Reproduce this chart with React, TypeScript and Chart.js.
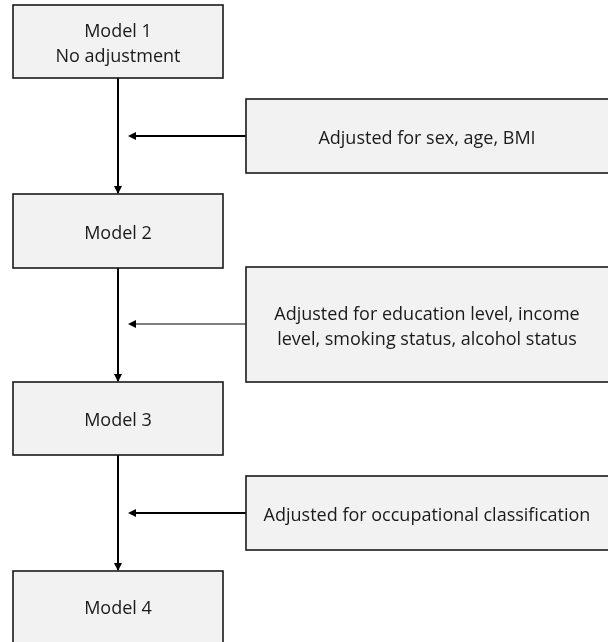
import React, { useEffect, useRef } from "react";
import { Chart, registerables } from "chart.js";

Chart.register(...registerables);

// Left column: model boxes (chart units, y grows downward)
const modelLabels: string[][] = [["Model 1", "No adjustment"], ["Model 2"], ["Model 3"], ["Model 4"]];
const modelTop = [5, 194, 382, 571];
const modelBottom = [78, 268, 455, 646];

// Right column: adjustment boxes
const adjustLabels: string[][] = [
  ["Adjusted for sex, age, BMI"],
  ["Adjusted for education level, income", "level, smoking status, alcohol status"],
  ["Adjusted for occupational classification"],
];
const adjustTop = [99, 267, 476];
const adjustBottom = [173, 382, 550];
const arrowY = [136, 324, 513];

// Column extents
const modelLeft = 13;
const modelRight = 223;
const trunkX = 118;
const adjustLeft = 246;
const adjustRight = 612;
const arrowTipX = 128;

const FONT = "18px 'Open Sans', Lato, sans-serif";
const TEXT = "#1a1a1a";
const FILL = "#f2f2f2";

export default function App() {
  const ref = useRef<HTMLCanvasElement | null>(null);
  useEffect(() => {
    document.body.style.margin = "0";
    const canvas = ref.current!;
    const trunkSets = modelBottom.slice(0, -1).map((b, i) => ({
      type: "line" as const,
      data: [
        { x: trunkX, y: b },
        { x: trunkX, y: modelTop[i + 1] - 1 },
      ],
      borderColor: "#000",
      borderWidth: 2,
      pointRadius: 0,
      showLine: true,
    }));
    const arrowSets = arrowY.map((y, i) => ({
      type: "line" as const,
      data: [
        { x: adjustLeft, y },
        { x: arrowTipX + 4, y },
      ],
      borderColor: "#000",
      borderWidth: i === 1 ? 1.2 : 2,
      pointRadius: 0,
      showLine: true,
    }));

    const boxPlugin = {
      id: "boxes",
      afterDatasetsDraw(chart: any) {
        const ctx = chart.ctx as CanvasRenderingContext2D;
        const xs = chart.scales.x;
        const ys = chart.scales.y;
        const drawBox = (x0: number, x1: number, y0: number, y1: number, lines: string[]) => {
          const px0 = xs.getPixelForValue(x0);
          const px1 = xs.getPixelForValue(x1);
          const py0 = ys.getPixelForValue(y0);
          const py1 = ys.getPixelForValue(y1);
          ctx.save();
          ctx.fillStyle = FILL;
          ctx.fillRect(px0, py0, px1 - px0, py1 - py0);
          ctx.strokeStyle = "#1a1a1a";
          ctx.lineWidth = 1.6;
          ctx.strokeRect(px0, py0, px1 - px0, py1 - py0);
          ctx.fillStyle = TEXT;
          ctx.font = FONT;
          ctx.textAlign = "center";
          ctx.textBaseline = "middle";
          const cx = (px0 + Math.min(px1, xs.getPixelForValue(608))) / 2;
          const cy = (py0 + Math.min(py1, ys.getPixelForValue(642))) / 2 + 2.5;
          const lh = 25;
          lines.forEach((t, k) => {
            ctx.fillText(t, cx, cy + (k - (lines.length - 1) / 2) * lh);
          });
          ctx.restore();
        };
        modelLabels.forEach((l, i) => drawBox(modelLeft, modelRight, modelTop[i], modelBottom[i], l));
        adjustLabels.forEach((l, i) => drawBox(adjustLeft, adjustRight, adjustTop[i], adjustBottom[i], l));

        // arrowheads
        ctx.save();
        ctx.fillStyle = "#000";
        modelTop.slice(1).forEach((t) => {
          const px = xs.getPixelForValue(trunkX);
          const py = ys.getPixelForValue(t);
          ctx.beginPath();
          ctx.moveTo(px, py);
          ctx.lineTo(px - 4, py - 8);
          ctx.lineTo(px + 4, py - 8);
          ctx.closePath();
          ctx.fill();
        });
        arrowY.forEach((y) => {
          const px = xs.getPixelForValue(arrowTipX);
          const py = ys.getPixelForValue(y);
          ctx.beginPath();
          ctx.moveTo(px, py);
          ctx.lineTo(px + 8, py - 4);
          ctx.lineTo(px + 8, py + 4);
          ctx.closePath();
          ctx.fill();
        });
        ctx.restore();
      },
    };

    const chart = new Chart(canvas, {
      type: "scatter",
      data: { datasets: [...trunkSets, ...arrowSets] as any },
      options: {
        animation: false,
        responsive: false,
        layout: { padding: 0 },
        plugins: { legend: { display: false }, tooltip: { enabled: false } },
        scales: {
          x: { type: "linear", min: 0, max: 608, display: false },
          y: { type: "linear", min: 0, max: 642, reverse: true, display: false },
        },
      },
      plugins: [boxPlugin],
    });
    return () => chart.destroy();
  }, []);
  return (
    <div style={{ width: 608, height: 642, background: "#fff" }}>
      <canvas ref={ref} width={608} height={642} style={{ display: "block" }} />
    </div>
  );
}
